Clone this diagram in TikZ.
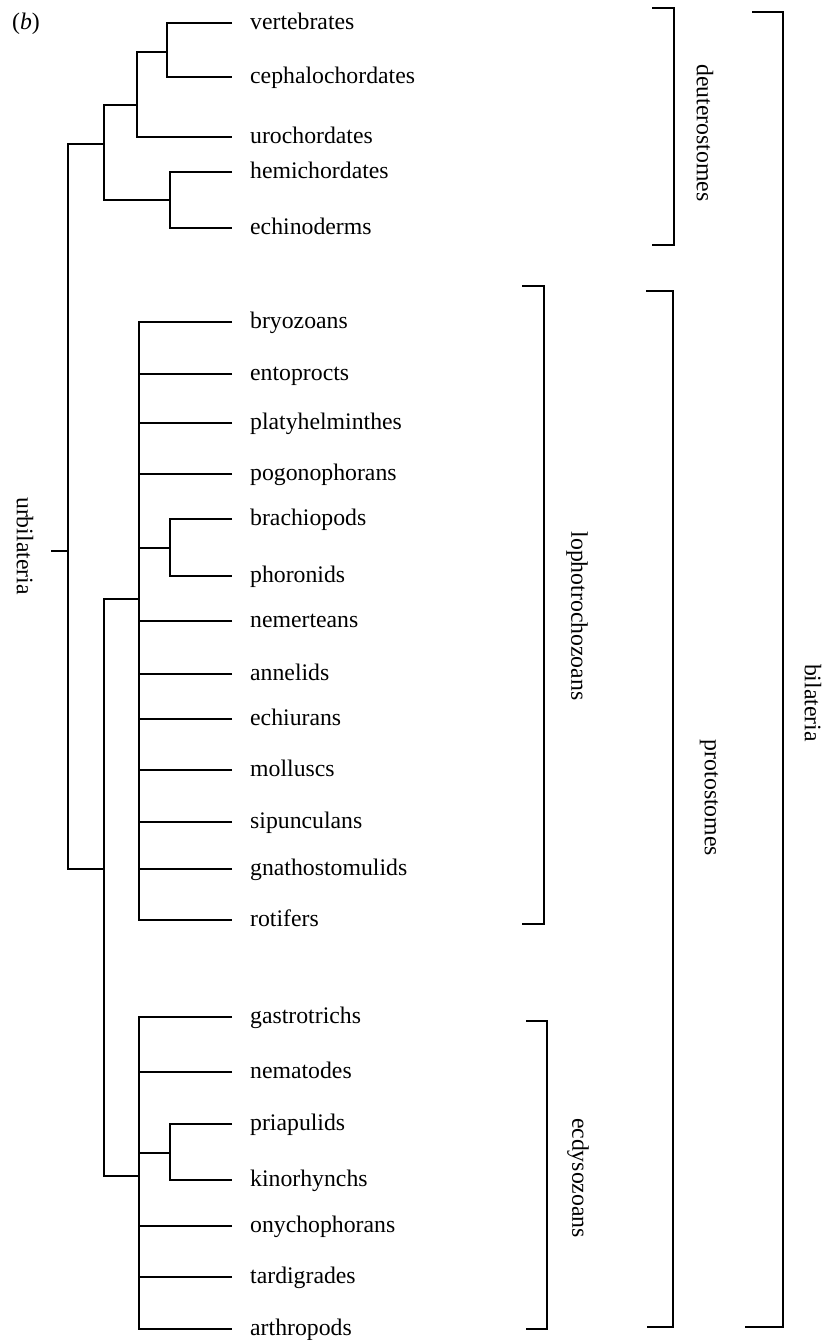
\documentclass[tikz,border=0pt]{standalone}
\usepackage{fontspec}
\setmainfont{Liberation Serif}
\begin{document}
\begin{tikzpicture}[x=1pt,y=-1pt,
  branch/.style={line width=1.7pt, line join=miter},
  brace/.style={line width=1.7pt, line join=miter},
  taxon/.style={anchor=base west, inner xsep=18pt, inner ysep=0pt,
    font=\fontsize{23.75}{28}\selectfont},
  group/.style={rotate=-90, anchor=center, inner sep=0pt,
    font=\fontsize{23.75}{28}\selectfont}]
\useasboundingbox (0,0) rectangle (824,1340);

% a leaf line meets its taxon at half the x-height above the baseline
\def\tip#1{([yshift=6.5pt]#1.base west)}

% panel letter
\node[anchor=base west, inner sep=0pt, font=\fontsize{23.75}{28}\selectfont] (panel) at (12,30) {(\textit{b})};

% ---- taxa (positions are baselines) ----
\node[taxon] (vert) at (232,29.5)  {vertebrates};
\node[taxon] (ceph) at (232,83.5)  {cephalochordates};
\node[taxon] (uro)  at (232,143.5) {urochordates};
\node[taxon] (hemi) at (232,178.5) {hemichordates};
\node[taxon] (echi) at (232,234.5) {echinoderms};

\node[taxon] (bryo) at (232,328.5) {bryozoans};
\node[taxon] (ento) at (232,380.5) {entoprocts};
\node[taxon] (plat) at (232,429.5) {platyhelminthes};
\node[taxon] (pogo) at (232,480.5) {pogonophorans};
\node[taxon] (brac) at (232,525.5) {brachiopods};
\node[taxon] (phor) at (232,582.5) {phoronids};
\node[taxon] (neme) at (232,627.5) {nemerteans};
\node[taxon] (anne) at (232,680.5) {annelids};
\node[taxon] (echu) at (232,725.5) {echiurans};
\node[taxon] (moll) at (232,776.5) {molluscs};
\node[taxon] (sipu) at (232,828.5) {sipunculans};
\node[taxon] (gnat) at (232,875.5) {gnathostomulids};
\node[taxon] (roti) at (232,926.5) {rotifers};

\node[taxon] (gast) at (232,1023.5) {gastrotrichs};
\node[taxon] (nema) at (232,1078.5) {nematodes};
\node[taxon] (pria) at (232,1130.5) {priapulids};
\node[taxon] (kino) at (232,1186.5) {kinorhynchs};
\node[taxon] (onyc) at (232,1232.5) {onychophorans};
\node[taxon] (tard) at (232,1283.5) {tardigrades};
\node[taxon] (arth) at (232,1335.5) {arthropods};

% ---- internal nodes ----
\coordinate (nVC)    at (167,52);
\coordinate (nChord) at (137,105);
\coordinate (nDeu)   at (104,144);
\coordinate (nAmb)   at (170,200);
\coordinate (nRoot)  at (68,551);
\coordinate (nStub)  at (51,551);
\coordinate (nProto) at (104,869);
\coordinate (nLopho) at (139,599);
\coordinate (nBP)    at (170,548);
\coordinate (nEcdy)  at (139,1176);
\coordinate (nPK)    at (170,1153);

% ---- deuterostome branches ----
\draw[branch] \tip{vert} -| (nVC) |- \tip{ceph};
\draw[branch] (nVC) -| (nChord) |- \tip{uro};
\draw[branch] \tip{hemi} -| (nAmb) |- \tip{echi};
\draw[branch] (nChord) -| (nDeu) |- (nAmb);

% ---- root ----
\draw[branch] (nDeu) -| (nRoot) |- (nProto);
\draw[branch] (nStub) -- (nRoot);
\draw[branch] (nLopho) -| (nProto) |- (nEcdy);

% ---- lophotrochozoans ----
\draw[branch] \tip{bryo} -| (nLopho) |- \tip{roti};
\foreach \t in {ento,plat,pogo,neme,anne,echu,moll,sipu,gnat}
  \draw[branch] \tip{\t} -- ([yshift=6.5pt]\t.base west -| nLopho);
\draw[branch] \tip{brac} -| (nBP) |- \tip{phor};
\draw[branch] (nBP) -- (nBP -| nLopho);

% ---- ecdysozoans ----
\draw[branch] \tip{gast} -| (nEcdy) |- \tip{arth};
\foreach \t in {nema,onyc,tard}
  \draw[branch] \tip{\t} -- ([yshift=6.5pt]\t.base west -| nEcdy);
\draw[branch] \tip{pria} -| (nPK) |- \tip{kino};
\draw[branch] (nPK) -- (nPK -| nEcdy);

% ---- root label ----
\node[group] (urbi) at (25,546) {urbilateria};

% ---- group brackets ----
\draw[brace] (652,8) -- (674,8) -- (674,245) -- (652,245);
\node[group] (deut) at (705,133) {deuterostomes};

\draw[brace] (522,286) -- (544,286) -- (544,924) -- (522,924);
\node[group] (loph) at (577,616) {lophotrochozoans};

\draw[brace] (526,1021) -- (547,1021) -- (547,1329) -- (526,1329);
\node[group] (ecdy) at (578,1178) {ecdysozoans};

\draw[brace] (646,291) -- (673,291) -- (673,1327) -- (647,1327);
\node[group] (prot) at (709,798) {protostomes};

\draw[brace] (752,12) -- (783,12) -- (783,1327) -- (745,1327);
\node[group] (bila) at (813,703) {bilateria};
\end{tikzpicture}
\end{document}
